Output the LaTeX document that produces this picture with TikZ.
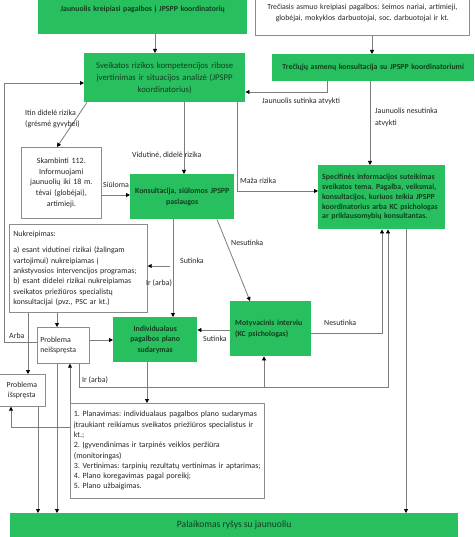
\documentclass[tikz,border=0pt]{standalone}
\usepackage{fontspec}
\setmainfont{Carlito}
\usetikzlibrary{arrows.meta}
\definecolor{gfill}{RGB}{40,192,95}
\definecolor{gtext}{RGB}{18,62,30}
\definecolor{lnc}{RGB}{125,125,125}
\definecolor{bdr}{RGB}{140,140,140}
\frenchspacing
\begin{document}
\begin{tikzpicture}[x=1pt,y=-1pt,
 gbox/.style={fill=gfill, draw=none, text=gtext, inner sep=3pt, align=center, font=\fontsize{7.8}{10.8}\selectfont\bfseries, anchor=north west},
 wbox/.style={fill=white, draw=bdr, line width=0.7pt, text=black!85, inner sep=3pt, align=center, font=\fontsize{7.8}{10.4}\selectfont, anchor=north west},
 arr/.style={draw=lnc, line width=0.8pt, -{Triangle[length=4pt,width=4pt,color=black]}},
 lbl/.style={font=\fontsize{7.9}{12}\selectfont, text=black!85, inner sep=0pt, anchor=west, align=left}]
\fill[white] (0,0) rectangle (474,537);
\useasboundingbox (0,0) rectangle (474,537);
% guides
\coordinate (v4) at (4,0); \coordinate (v11) at (11,0); \coordinate (v28) at (28,0);
\coordinate (v38) at (38,0); \coordinate (v57) at (57,0); \coordinate (v79) at (79,0);
\coordinate (v147) at (147,0); \coordinate (v155) at (155,0); \coordinate (v170) at (170,0);
\coordinate (v173) at (173,0); \coordinate (v184) at (184,0); \coordinate (v217) at (217,0);
\coordinate (v237) at (237,0); \coordinate (v250) at (250,0); \coordinate (v264) at (264,0);
\coordinate (v327) at (327,0); \coordinate (v370) at (370,0); \coordinate (v372) at (372,0);
\coordinate (v382) at (382,0); \coordinate (v388) at (388,0); \coordinate (v406) at (406,0);
\coordinate (h83) at (0,83); \coordinate (h92) at (0,92); \coordinate (h191) at (0,191);
\coordinate (h195) at (0,195); \coordinate (h266) at (0,266); \coordinate (h330) at (0,330);
\coordinate (h333) at (0,333); \coordinate (h340) at (0,340); \coordinate (h342) at (0,342);
\coordinate (h387) at (0,387); \coordinate (h427) at (0,427);
% boxes
\node[gbox, minimum width=209pt, minimum height=50pt, text width=203pt] (j) at (38,-16) {Jaunuolis kreipiasi pagalbos į JPSPP koordinatorių};
\node[wbox, minimum width=214pt, minimum height=45pt, text width=208pt, font=\fontsize{7.8}{10.8}\selectfont] (t) at (255,-10) {Trečiasis asmuo kreipiasi pagalbos: šeimos nariai, artimieji,\\globėjai, mokyklos darbuotojai, soc. darbuotojai ir kt.};
\node[gbox, minimum width=161pt, minimum height=49pt, text width=155pt, font=\fontsize{8.7}{12}\selectfont] (s) at (84,53) {Sveikatos rizikos kompetencijos ribose\\įvertinimas ir situacijos analizė (JPSPP\\koordinatorius)};
\node[gbox, minimum width=202pt, minimum height=27pt, text width=196pt] (k3) at (272,54) {Trečiųjų asmenų konsultacija su JPSPP koordinatoriumi};
\node[wbox, minimum width=80pt, minimum height=71pt, text width=76pt, inner xsep=2pt, font=\fontsize{8}{10.7}\selectfont] (sky) at (21,147) {Skambinti 112.\\Informuojami\\jaunuolių iki 18 m.\\tėvai (globėjai),\\artimieji.};
\node[gbox, minimum width=104pt, minimum height=45pt, text width=100pt, inner xsep=2pt] (ko) at (130,174) {Konsultacija, siūlomos JPSPP\\paslaugos};
\node[gbox, minimum width=127pt, minimum height=64pt, text width=119pt, inner xsep=4pt, align=left, font=\fontsize{7.8}{9.7}\selectfont\bfseries] (sp) at (318,165) {Specifinės informacijos suteikimas\\sveikatos tema. Pagalba, veiksmai,\\konsultacijos, kuriuos teikia JPSPP\\koordinatorius arba KC psichologas\\ar priklausomybių konsultantas.};
\node[wbox, minimum width=138pt, minimum height=88pt, text width=130pt, inner xsep=4pt, align=left, font=\fontsize{7.9}{10.4}\selectfont] (nuk) at (9,224) {Nukreipimas:\\[6pt]a) esant vidutinei rizikai (žalingam\\vartojimui) nukreipiamas į\\ankstyvosios intervencijos programas;\\b) esant didelei rizikai nukreipiamas\\sveikatos priežiūros specialistų\\konsultacijai (pvz., PSC ar kt.)};
\node[wbox, minimum width=52pt, minimum height=36pt, text width=46pt, inner xsep=3pt, align=left] (pn) at (37,327) {Problema\\neišspręsta};
\node[wbox, minimum width=47pt, minimum height=32pt, text width=43pt, inner xsep=2pt] (pi) at (-2,374) {Problema\\išspręsta};
\node[gbox, minimum width=84pt, minimum height=45pt, text width=78pt] (ind) at (113,317) {Individualaus\\pagalbos plano\\sudarymas};
\node[gbox, minimum width=81pt, minimum height=55pt, text width=71pt, inner xsep=5pt, align=left] (mot) at (230,301) {Motyvacinis interviu\\(KC psichologas)};
\node[wbox, minimum width=194pt, minimum height=95pt, text width=187pt, inner xsep=3.5pt, align=left, font=\fontsize{8}{10.3}\selectfont] (plan) at (70,403) {1. Planavimas: individualaus pagalbos plano sudarymas\\įtraukiant reikiamus sveikatos priežiūros specialistus ir\\kt.;\\2. Įgyvendinimas ir tarpinės veiklos peržiūra\\(monitoringas)\\3. Vertinimas: tarpinių rezultatų vertinimas ir aptarimas;\\4. Plano koregavimas pagal poreikį;\\5. Plano užbaigimas.};
\node[gbox, minimum width=448pt, minimum height=24pt, font=\fontsize{9.6}{11}\selectfont] (pal) at (10,513) {Palaikomas ryšys su jaunuoliu};
% connectors
\draw[arr] (j.south -| v155) -- (s.north -| v155);
\draw[arr] (t.south -| v372) -- (k3.north -| v372);
\draw[arr] (k3.south -| v327) |- (s.east |- h92);
\draw[arr] (k3.south -| v370) -- (sp.north -| v370);
\draw[arr] ([xshift=3pt]s.south west) -- (sky.north -| v57);
\draw[arr] (s.south -| v184) -- (ko.north -| v184);
\draw[arr] (s.south -| v237) |- (sp.west |- h191);
\draw[arr] (sky.east |- h195) -- (ko.west |- h195);
\draw[arr] (ko.south -| v173) -- (ind.north -| v173);
\draw[arr] (v170 |- h266) -- (nuk.east |- h266);
\draw[arr] (ko.south -| v217) -- (mot.north -| v250);
\draw[arr] (mot.west |- h330) -- (ind.east |- h330);
\draw[arr] (mot.east |- h333) -| (sp.south -| v382);
\draw[arr] (pn.south -| v79) |- (v388 |- h387) -- (sp.south -| v388);
\draw[arr] (v264 |- h387) -- (mot.south -| v264);
\draw[arr] (sp.south -| v406) -- (pal.north -| v406);
\draw[arr] (nuk.south -| v57) -- (pn.north -| v57);
\draw[arr] (nuk.south -| v28) -- (pi.north -| v28);
\draw[arr] (pn.east |- h340) -- (ind.west |- h340);
\draw[arr] (pn.west |- h342) -| (v4 |- h83) -- (s.west |- h83);
\draw[arr] (pn.south -| v57) -- (pal.north -| v57);
\draw[arr] (pi.south -| v38) -- (pal.north -| v38);
\draw[arr] (ind.south -| v147) -- (plan.north -| v147);
\draw[arr] (plan.north west) -- (pn.south -| plan.north west);
\draw[arr] (plan.west |- h427) -| (pi.south -| v11);
% labels
\node[lbl] (l1) at (262,101) {Jaunuolis sutinka atvykti};
\node[lbl, anchor=north west] (l2) at (375,108) {Jaunuolis nesutinka\\atvykti};
\node[lbl, anchor=north west, font=\fontsize{7.9}{11}\selectfont] (l3) at (25,110) {Itin didelė rizika\\(grėsmė gyvybei)};
\node[lbl] (l4) at (132,155) {Vidutinė, didelė rizika};
\node[lbl] (l5) at (103,185) {Siūloma};
\node[lbl] (l6) at (240,181) {Maža rizika};
\node[lbl] (l7) at (231,243) {Nesutinka};
\node[lbl] (l8) at (180,261) {Sutinka};
\node[lbl] (l9) at (146,283) {Ir (arba)};
\node[lbl] (l10) at (324,323) {Nesutinka};
\node[lbl] (l11) at (203,339) {Sutinka};
\node[lbl] (l12) at (9,336) {Arba};
\node[lbl] (l13) at (82,380) {Ir (arba)};
\end{tikzpicture}
\end{document}
